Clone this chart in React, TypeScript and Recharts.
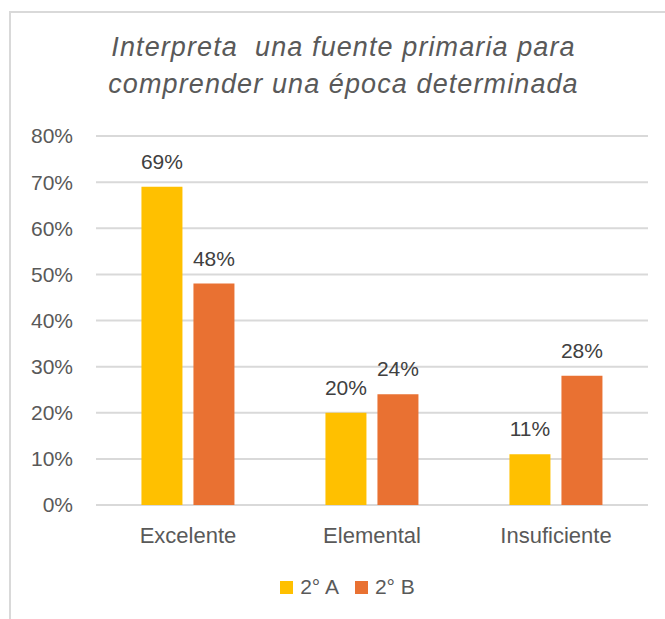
import { BarChart, Bar, XAxis, YAxis, CartesianGrid, Legend, LabelList } from 'recharts';

const categories = ['Excelente', 'Elemental', 'Insuficiente'];
const grupoA = [69, 20, 11];
const grupoB = [48, 24, 28];
const yTicks = [0, 10, 20, 30, 40, 50, 60, 70, 80];
const titleLines = ['Interpreta  una fuente primaria para', 'comprender una época determinada'];
const seriesNames = ['2° A', '2° B'];
const seriesColors = ['#FFC000', '#E97132'];

const data = categories.map((name, i) => ({ name, a: grupoA[i], b: grupoB[i] }));

const FONT = '"Liberation Sans", Arial, sans-serif';

function LegendBox() {
    return (
        <div style={{ height: 24, display: 'flex', justifyContent: 'center', alignItems: 'center', fontFamily: FONT, fontSize: 21, color: '#595959' }}>
            {seriesNames.map((n, i) => (
                <span key={n} style={{ display: 'flex', alignItems: 'center', marginRight: i === 0 ? 16 : 0 }}>
                    <span style={{ width: 13, height: 13, background: seriesColors[i], marginRight: 7, display: 'inline-block' }} />
                    {n}
                </span>
            ))}
        </div>
    );
}

export default function App() {
    return (
        <div style={{ position: 'absolute', left: 0, top: 0, width: 665, height: 619, overflow: 'hidden', background: '#fff', fontFamily: FONT }}>
            <div style={{ position: 'absolute', left: 9, top: 11, width: 700, height: 700, border: '2px solid #d9d9d9', boxSizing: 'border-box' }} />
            <div style={{ position: 'absolute', left: 0, width: 687, top: 29, textAlign: 'center', fontStyle: 'italic', fontSize: 27, letterSpacing: 1.1, lineHeight: '37px', color: '#595959' }}>
                {titleLines.map((t) => (
                    <div key={t} style={{ whiteSpace: 'pre' }}>{t}</div>
                ))}
            </div>
            <div style={{ position: 'absolute', left: 0, top: 0 }}>
                <BarChart
                    width={665}
                    height={619}
                    data={data}
                    margin={{ top: 136, right: 17, left: 26, bottom: 50 }}
                    barCategoryGap="24.7%"
                    barGap={11}
                >
                    <CartesianGrid vertical={false} stroke="#d9d9d9" strokeWidth={2} />
                    <XAxis
                        dataKey="name"
                        axisLine={false}
                        tickLine={false}
                        tickSize={0}
                        tickMargin={22}
                        tick={{ fill: '#595959', fontSize: 22, fontFamily: FONT }}
                        height={40}
                    />
                    <YAxis
                        width={70}
                        domain={[0, 80]}
                        ticks={yTicks}
                        tickFormatter={(v: number) => `${v}%`}
                        axisLine={false}
                        tickLine={false}
                        tickSize={0}
                        tickMargin={23}
                        tick={{ fill: '#595959', fontSize: 21, fontFamily: FONT }}
                    />
                    <Legend
                        verticalAlign="bottom"
                        align="center"
                        content={() => <LegendBox />}
                        wrapperStyle={{ top: 575, bottom: 'auto', left: 15, width: 665 }}
                    />
                    <Bar dataKey="a" name={seriesNames[0]} fill={seriesColors[0]} isAnimationActive={false}>
                        <LabelList dataKey="a" position="top" offset={18} formatter={(v: number) => `${v}%`} fill="#404040" fontSize={21} fontFamily={FONT} />
                    </Bar>
                    <Bar dataKey="b" name={seriesNames[1]} fill={seriesColors[1]} isAnimationActive={false}>
                        <LabelList dataKey="b" position="top" offset={18} formatter={(v: number) => `${v}%`} fill="#404040" fontSize={21} fontFamily={FONT} />
                    </Bar>
                </BarChart>
            </div>
        </div>
    );
}
